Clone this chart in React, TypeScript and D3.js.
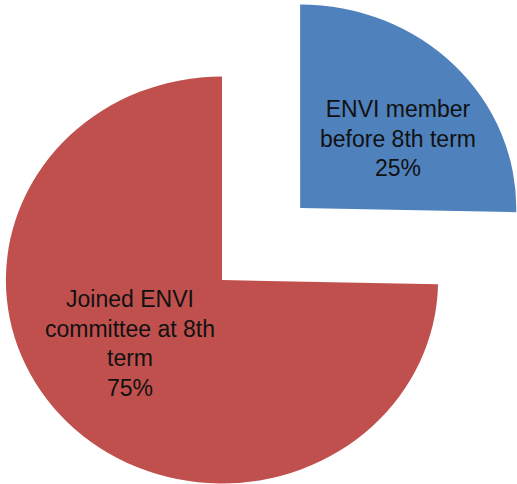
import React from "react";
import * as d3 from "d3";

const categories: string[] = ["ENVI member before 8th term", "Joined ENVI committee at 8th term"];
const values: number[] = [19, 56];
const labelLines: string[][] = [
  ["ENVI member", "before 8th term"],
  ["Joined ENVI", "committee at 8th", "term"],
];
const colors: string[] = ["#4F81BD", "#C0504D"];

const W = 517;
const H = 484;
const R = 203.5;
const SX = 1.062;
const CX = 222;
const CY = 280;
const EXPLODE = [103, 0];
const LABEL_POS: [number, number][] = [
  [398, 117],
  [130, 307],
];
const LINE_H = 29.7;

export default function App() {
  const total = d3.sum(values);
  const pie = d3.pie<number>().sort(null).startAngle(0).endAngle(2 * Math.PI)(values);
  const arc = d3.arc<d3.PieArcDatum<number>>().innerRadius(0).outerRadius(R);
  const pct = d3.format(".0%");

  return (
    <svg
      width={W}
      height={H}
      style={{ position: "absolute", left: 0, top: 0, background: "#fff" }}
      fontFamily="'Liberation Sans', Arial, sans-serif"
    >
      {pie.map((p, i) => {
        const mid = (p.startAngle + p.endAngle) / 2;
        const dx = Math.sin(mid) * EXPLODE[i] * SX;
        const dy = -Math.cos(mid) * EXPLODE[i];
        return (
          <g key={categories[i]} transform={`translate(${CX + dx},${CY + dy}) scale(${SX},1)`}>
            <path d={arc(p) || ""} fill={colors[i]} />
          </g>
        );
      })}
      {pie.map((p, i) => {
        const lines = [...labelLines[i], pct(values[i] / total)];
        const [lx, ly] = LABEL_POS[i];
        return (
          <text key={"l" + i} x={lx} y={ly} textAnchor="middle" fontSize={23} fill="#111">
            {lines.map((t, j) => (
              <tspan key={j} x={lx} y={ly + j * LINE_H}>
                {t}
              </tspan>
            ))}
          </text>
        );
      })}
    </svg>
  );
}
